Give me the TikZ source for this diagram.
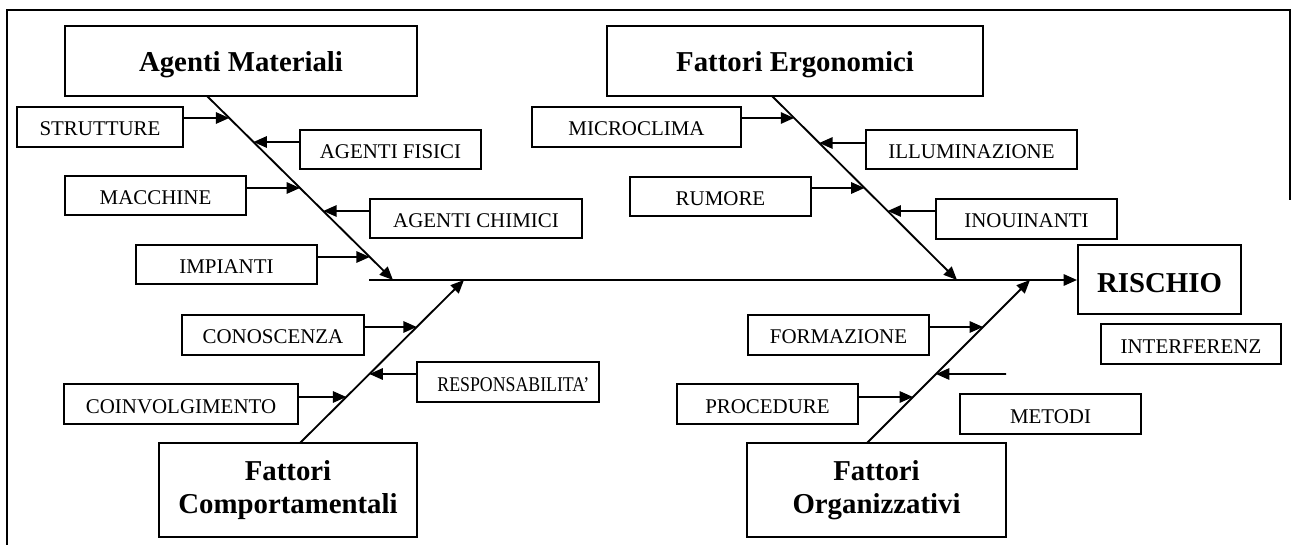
\documentclass[tikz,border=0pt]{standalone}
\usepackage{fontspec}
\setmainfont{Liberation Serif}
\usetikzlibrary{arrows.meta,calc}
\begin{document}
\begin{tikzpicture}[x=0.75pt,y=-0.75pt,
  bx/.style 2 args={minimum width={#1*0.75pt},minimum height={#2*0.75pt}},
  box/.style={draw,line width=1.5pt,inner sep=0pt,anchor=center},
  lbl/.style={box,font=\fontsize{15.7}{18}\selectfont,text height=13.5pt,text depth=0pt},
  hdr/.style={box,font=\fontsize{21.6}{25}\selectfont\bfseries,align=center},
  conn/.style={line width=1.4pt,-{Triangle[length=10pt,width=8.5pt]}}]
\useasboundingbox (0,0) rectangle (1292,545);
\draw[line width=2.2pt] (7,545) -- (7,10) -- (1290,10) -- (1290,200);
% heads
\node[hdr,bx={352}{70},text height=17pt,text depth=1pt] (agm) at (241,61) {Agenti Materiali};
\node[hdr,bx={376}{70},text height=17pt,text depth=1pt] (fer) at (795,61) {Fattori Ergonomici};
\node[hdr,bx={258}{94}] (fco) at (288,490) {Fattori\\Comportamentali};
\node[hdr,bx={259}{94}] (fog) at (876.5,490) {Fattori\\Organizzativi};
\node[hdr,bx={163}{69},text height=18pt,text depth=0pt] (ris) at (1159.5,280) {RISCHIO};
% labels
\node[lbl,bx={166}{40}] (str) at (100,127) {STRUTTURE};
\node[lbl,bx={181}{39}] (afi) at (390.5,149.5) {AGENTI FISICI};
\node[lbl,bx={181}{39}] (mac) at (155.5,195.5) {MACCHINE};
\node[lbl,bx={212}{39}] (ach) at (476,218.5) {AGENTI CHIMICI};
\node[lbl,bx={181}{39}] (imp) at (226.5,264.5) {IMPIANTI};
\node[lbl,bx={209}{40}] (mic) at (636.5,127) {MICROCLIMA};
\node[lbl,bx={211}{39}] (ill) at (971.5,149.5) {ILLUMINAZIONE};
\node[lbl,bx={181}{39}] (rum) at (720.5,196.5) {RUMORE};
\node[lbl,bx={181}{40}] (ino) at (1026.5,219) {INOUINANTI};
\node[lbl,bx={180}{40}] (int) at (1191,344) {INTERFERENZ};
\node[lbl,bx={182}{40}] (con) at (273,335) {CONOSCENZA};
\node[lbl,bx={182}{40}] (res) at (508,382) {\hspace*{8pt}\scalebox{0.85}[1]{RESPONSABILITA'}};
\node[lbl,bx={234}{40}] (coi) at (181,404) {COINVOLGIMENTO};
\node[lbl,bx={181}{40}] (frm) at (838.5,335) {FORMAZIONE};
\node[lbl,bx={181}{40}] (pro) at (767.5,404) {PROCEDURE};
\node[lbl,bx={181}{40}] (met) at (1050.5,414) {METODI};
% bones
\coordinate (tlA) at (207,96);  \coordinate (tlB) at (393,280);
\coordinate (trA) at (772,96);  \coordinate (trB) at (957,280);
\coordinate (blA) at (300,443); \coordinate (blB) at (464,280);
\coordinate (brA) at (867,443); \coordinate (brB) at (1030,280);
\coordinate (spL) at (369,280);
\coordinate (stray) at (1006,374);
\draw[line width=1.4pt] (spL) -- (tlB);
\draw[conn] (spL) -- (ris.west);
\draw[conn] (tlA) -- (tlB);
\draw[conn] (trA) -- (trB);
\draw[conn] (blA) -- (blB);
\draw[conn] (brA) -- (brB);
% points on bones
\coordinate (a1) at ($(tlA)!0.1196!(tlB)$);
\coordinate (a2) at ($(tlA)!0.25!(tlB)$);
\coordinate (a3) at ($(tlA)!0.5!(tlB)$);
\coordinate (a4) at ($(tlA)!0.625!(tlB)$);
\coordinate (a5) at ($(tlA)!0.875!(tlB)$);
\coordinate (e1) at ($(trA)!0.1196!(trB)$);
\coordinate (e2) at ($(trA)!0.2554!(trB)$);
\coordinate (e3) at ($(trA)!0.5!(trB)$);
\coordinate (e4) at ($(trA)!0.625!(trB)$);
\coordinate (c1) at ($(blA)!0.7117!(blB)$);
\coordinate (c2) at ($(blA)!0.4233!(blB)$);
\coordinate (c3) at ($(blA)!0.2822!(blB)$);
\coordinate (o1) at ($(brA)!0.7117!(brB)$);
\coordinate (o2) at ($(brA)!0.4233!(brB)$);
\coordinate (o3) at ($(brA)!0.2822!(brB)$);
% cause arrows
\draw[conn] (str.east |- a1) -- (a1);
\draw[conn] (afi.west |- a2) -- (a2);
\draw[conn] (mac.east |- a3) -- (a3);
\draw[conn] (ach.west |- a4) -- (a4);
\draw[conn] (imp.east |- a5) -- (a5);
\draw[conn] (mic.east |- e1) -- (e1);
\draw[conn] (ill.west |- e2) -- (e2);
\draw[conn] (rum.east |- e3) -- (e3);
\draw[conn] (ino.west |- e4) -- (e4);
\draw[conn] (con.east |- c1) -- (c1);
\draw[conn] (res.west |- c2) -- (c2);
\draw[conn] (coi.east |- c3) -- (c3);
\draw[conn] (frm.east |- o1) -- (o1);
\draw[conn] (stray) -- (o2);
\draw[conn] (pro.east |- o3) -- (o3);
\end{tikzpicture}
\end{document}
